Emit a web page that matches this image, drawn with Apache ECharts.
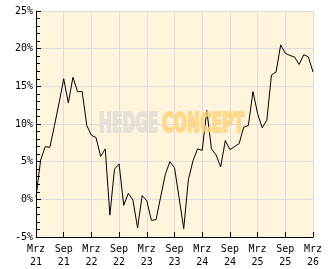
<!DOCTYPE html>
<html>
<head>
<meta charset="utf-8">
<script src="https://cdn.jsdelivr.net/npm/echarts@6/dist/echarts.min.js"></script>
<style>html,body{margin:0;padding:0;background:#fff;}#c{width:332px;height:269px;}</style>
</head>
<body>
<div id="c"></div>
<script>
var months = [
 'Mrz 21','Apr 21','Mai 21','Jun 21','Jul 21','Aug 21','Sep 21','Okt 21','Nov 21','Dez 21',
 'Jan 22','Feb 22','Mrz 22','Apr 22','Mai 22','Jun 22','Jul 22','Aug 22','Sep 22','Okt 22','Nov 22','Dez 22',
 'Jan 23','Feb 23','Mrz 23','Apr 23','Mai 23','Jun 23','Jul 23','Aug 23','Sep 23','Okt 23','Nov 23','Dez 23',
 'Jan 24','Feb 24','Mrz 24','Apr 24','Mai 24','Jun 24','Jul 24','Aug 24','Sep 24','Okt 24','Nov 24','Dez 24',
 'Jan 25','Feb 25','Mrz 25','Apr 25','Mai 25','Jun 25','Jul 25','Aug 25','Sep 25','Okt 25','Nov 25','Dez 25',
 'Jan 26','Feb 26','Mrz 26'
];
var performance = [
 0.3, 5.2, 7.0, 6.9, 9.8, 12.8, 16.0, 12.8, 16.2, 14.3,
 14.3, 9.8, 8.5, 8.2, 5.7, 6.7, -2.1, 4.0, 4.7, -0.8, 0.8, -0.1,
 -3.8, 0.5, -0.2, -2.8, -2.7, 0.3, 3.3, 5.0, 4.2, 0.2, -3.9, 2.6,
 5.1, 6.7, 6.5, 11.8, 6.7, 5.9, 4.3, 7.8, 6.6, 7.0, 7.4, 9.6,
 9.8, 14.3, 11.4, 9.5, 10.5, 16.5, 16.9, 20.5, 19.4, 19.1, 18.9, 17.9,
 19.2, 18.9, 16.9
];
var yMin = -5, yMax = 25, yStep = 5;
var watermarkA = 'HEDGE', watermarkB = 'CONCEPT';

var font = '"DejaVu Sans Mono", monospace';
var chart = echarts.init(document.getElementById('c'), null, {renderer: 'canvas'});
chart.setOption({
  animation: false,
  backgroundColor: '#ffffff',
  grid: {left: 36, right: 19, top: 11, bottom: 32, show: true, backgroundColor: '#fff5dc', borderWidth: 0},
  xAxis: {
    type: 'category',
    data: months,
    boundaryGap: false,
    axisLine: {onZero: false, lineStyle: {color: '#000', width: 1}},
    axisTick: {inside: true, length: 5, interval: 5, lineStyle: {color: '#000'}},
    axisLabel: {interval: 5, color: '#000', fontFamily: font, fontSize: 10, lineHeight: 13, margin: 6,
      formatter: function (v) { return v.replace(' ', '\n'); }},
    splitLine: {show: true, interval: 5, lineStyle: {color: '#dcdcdc', width: 1}}
  },
  yAxis: {
    type: 'value',
    min: yMin, max: yMax, interval: yStep,
    axisLine: {show: true, onZero: false, lineStyle: {color: '#000', width: 1}},
    axisTick: {show: true, inside: true, length: 5, lineStyle: {color: '#000'}},
    minorTick: {show: true, splitNumber: 5, length: 4, lineStyle: {color: '#000'}},
    axisLabel: {color: '#000', fontFamily: font, fontSize: 10, margin: 3, formatter: '{value}%'},
    splitLine: {show: true, lineStyle: {color: '#dcdcdc', width: 1}}
  },
  graphic: [
    {type: 'text', x: 99, y: 124.5, z: 100, scaleX: 0.57, silent: true,
      style: {text: watermarkA, font: 'bold 27px "DejaVu Sans"', fill: '#e2dfd6', stroke: '#e2dfd6', lineWidth: 2.2, opacity: 0.85, textVerticalAlign: 'middle'}},
    {type: 'text', x: 162, y: 124.5, z: 100, scaleX: 0.58, silent: true,
      style: {text: watermarkB, font: 'bold 27px "DejaVu Sans"', fill: '#ffd27a', stroke: '#ffd27a', lineWidth: 2.2, opacity: 0.75, textVerticalAlign: 'middle'}}
  ],
  series: [{
    type: 'line',
    data: performance,
    showSymbol: false,
    symbol: 'none',
    lineStyle: {color: '#000', width: 1},
    z: 3
  }]
});
</script>
</body>
</html>
